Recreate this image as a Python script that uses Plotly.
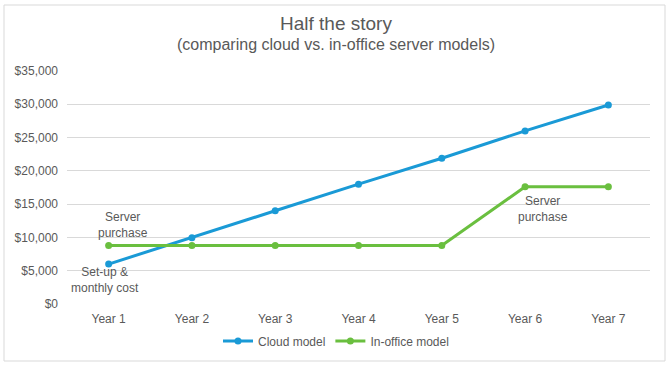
import plotly.graph_objects as go

years = ["Year 1", "Year 2", "Year 3", "Year 4", "Year 5", "Year 6", "Year 7"]
cloud = [6000, 9950, 14000, 18000, 21900, 26000, 29900]
office = [8800, 8800, 8800, 8800, 8800, 17600, 17600]
yticks = [0, 5000, 10000, 15000, 20000, 25000, 30000, 35000]
ytick_text = ["$0", "$5,000", "$10,000", "$15,000", "$20,000", "$25,000", "$30,000", "$35,000"]

BLUE = "#1A9AD6"
GREEN = "#6ABF3F"
GRAY = "#595959"
FONT = "Liberation Sans, Arial, sans-serif"

W, H = 671, 367
L, R, T, B = 67, 21, 71, 63
pw, ph = W - L - R, H - T - B

def px(x):
    return (x - L) / pw

def py(y):
    return (H - B - y) / ph

fig = go.Figure()
fig.add_trace(go.Scatter(x=years, y=cloud, name="Cloud model", mode="lines+markers",
                         line=dict(color=BLUE, width=3), marker=dict(size=7, color=BLUE)))
fig.add_trace(go.Scatter(x=years, y=office, name="In-office model", mode="lines+markers",
                         line=dict(color=GREEN, width=3), marker=dict(size=7, color=GREEN)))

fig.update_layout(
    width=W, height=H,
    margin=dict(l=L, r=R, t=T, b=B),
    paper_bgcolor="white", plot_bgcolor="white",
    font=dict(family=FONT, color=GRAY, size=12),
    showlegend=True,
    legend=dict(orientation="h", x=px(336), xanchor="center", y=py(341), yanchor="middle",
                font=dict(size=12, color=GRAY), itemwidth=30, tracegroupgap=0),
    xaxis=dict(range=[-0.5, 6.5], showgrid=False, zeroline=False, showline=False,
               ticks="", tickfont=dict(size=12, color=GRAY), ticklabelstandoff=6),
    yaxis=dict(range=[0, 35000], tickvals=yticks, ticktext=ytick_text,
               showgrid=True, gridcolor="#D9D9D9", gridwidth=1, zeroline=False,
               showline=False, ticks="", tickfont=dict(size=12, color=GRAY), ticklabelstandoff=8),
)

cx = px(336)
fig.add_annotation(text="Half the story", xref="paper", yref="paper", x=cx,
                   y=py(23), showarrow=False, font=dict(size=19, color=GRAY), xanchor="center", yanchor="middle")
fig.add_annotation(text="(comparing cloud vs. in-office server models)", xref="paper", yref="paper",
                   x=cx, y=py(45), showarrow=False,
                   font=dict(size=16, color=GRAY), xanchor="center", yanchor="middle")

fig.add_annotation(text="Server<br>purchase", xref="paper", yref="paper", x=px(123), y=py(225),
                   showarrow=False, font=dict(size=12, color=GRAY), xanchor="center", yanchor="middle")
fig.add_annotation(text="Set-up &<br>monthly cost", xref="paper", yref="paper", x=px(105), y=py(280),
                   showarrow=False, font=dict(size=12, color=GRAY), xanchor="center", yanchor="middle")
fig.add_annotation(text="Server<br>purchase", xref="paper", yref="paper", x=px(543), y=py(209),
                   showarrow=False, font=dict(size=12, color=GRAY), xanchor="center", yanchor="middle")

fig.add_shape(type="rect", xref="paper", yref="paper", x0=px(4), x1=px(665), y0=py(361), y1=py(5),
              line=dict(color="#D9D9D9", width=1), fillcolor="rgba(0,0,0,0)", layer="below")

fig.write_html("out.html", config={"displayModeBar": False},
               post_script="document.body.style.margin='0';document.body.style.padding='0';document.body.style.overflow='hidden';")
